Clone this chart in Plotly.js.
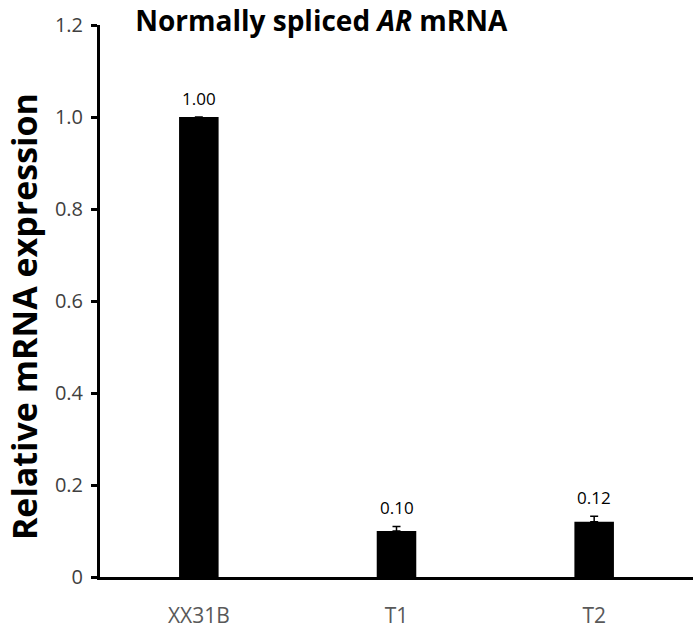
<!DOCTYPE html>
<html>
<head>
<meta charset="utf-8">
<script src="https://cdn.plot.ly/plotly-3.0.1.min.js"></script>
<style>
  body { margin: 0; background: #fff; }
  #plot { width: 700px; height: 629px; }
</style>
</head>
<body>
<div id="plot"></div>
<script>
const samples = ["XX31B", "T1", "T2"];
const expression = [1.0, 0.1, 0.12];
const errors = [0, 0.01, 0.012];
const valueLabels = ["1.00", "0.10", "0.12"];
const yTicks = [0, 0.2, 0.4, 0.6, 0.8, 1.0, 1.2];
const yTickText = ["0", "0.2", "0.4", "0.6", "0.8", "1.0", "1.2"];

function plotGraph() {
  const bars = {
    type: "bar",
    x: samples,
    y: expression,
    width: 0.2,
    marker: { color: "#000000", line: { width: 0 } },
    error_y: {
      type: "data",
      array: errors,
      symmetric: false,
      arrayminus: [0, 0, 0],
      visible: true,
      color: "#000000",
      thickness: 1.5,
      width: 4,
    },
    hoverinfo: "none",
  };

  // value labels just above each bar / error bar
  const valueNotes = samples.map((s, i) => ({
    x: s,
    y: expression[i] + errors[i],
    xref: "x",
    yref: "y",
    text: valueLabels[i],
    showarrow: false,
    yanchor: "bottom",
    yshift: 5,
    font: { family: "Open Sans, sans-serif", size: 17, color: "#000000" },
  }));

  // y title as an annotation so it can sit a bit lower than centre
  const yTitle = {
    text: "<b>Relative mRNA expression</b>",
    xref: "paper",
    yref: "paper",
    x: -0.128,
    y: 0.471,
    xanchor: "center",
    yanchor: "middle",
    textangle: -90,
    showarrow: false,
    font: { family: "Open Sans, sans-serif", size: 34, color: "#000000" },
  };

  const layout = {
    width: 700,
    height: 629,
    margin: { l: 100, r: 7, t: 25, b: 52 },
    paper_bgcolor: "#ffffff",
    plot_bgcolor: "#ffffff",
    showlegend: false,
    title: {
      text: "Normally spliced <i>AR</i> mRNA",
      font: { family: "Open Sans, sans-serif", size: 28, color: "#000000", weight: "bold" },
      x: 0.459,
      xanchor: "center",
      y: 0.967,
      yanchor: "middle",
    },
    annotations: valueNotes.concat([yTitle]),
    xaxis: {
      showgrid: false,
      zeroline: false,
      showline: true,
      linecolor: "#000000",
      linewidth: 3,
      ticks: "",
      tickfont: { family: "Open Sans, sans-serif", size: 21, color: "#595959" },
      ticklabelstandoff: 18,
    },
    yaxis: {
      range: [0, 1.2],
      tickvals: yTicks,
      ticktext: yTickText,
      showgrid: false,
      zeroline: false,
      showline: true,
      linecolor: "#000000",
      linewidth: 3,
      ticks: "outside",
      ticklen: 6,
      tickwidth: 3,
      tickcolor: "#000000",
      tickfont: { family: "Open Sans, sans-serif", size: 20, color: "#404040" },
      ticklabelstandoff: 4,
    },
  };

  Plotly.newPlot("plot", [bars], layout, { displayModeBar: false, staticPlot: true });
}

plotGraph();
</script>
</body>
</html>
